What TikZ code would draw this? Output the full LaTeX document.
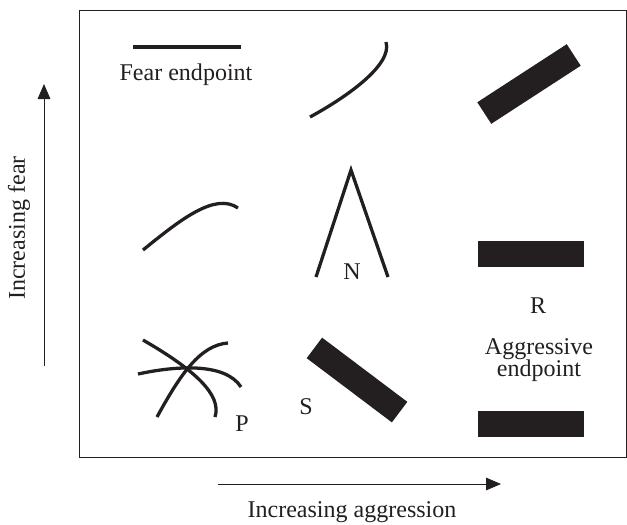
\documentclass[tikz,border=0pt]{standalone}
\usepackage{fontspec}
\setmainfont{Liberation Serif}
\usetikzlibrary{arrows.meta}
\definecolor{ink}{RGB}{35,31,32}

\begin{document}
\begin{tikzpicture}[x=0.03cm, y=-0.03cm, >={Triangle[length=0.45cm, width=0.38cm]},
    every node/.style={font=\fontsize{20.5}{19}\selectfont, text=ink},
    stroke/.style={ink, line width=2.8pt},
    bar/.style={fill=ink, inner sep=0pt, minimum width=3.2cm, minimum height=0.77cm}]
    \useasboundingbox (0,0) rectangle (627,524);

    % Rahmen
    \draw[ink, line width=0.7pt] (79,10) rectangle (626,457);

    % Achsen
    \coordinate (fearlo) at (44,366);
    \coordinate (fearhi) at (44,84);
    \draw[->, ink, line width=0.7pt] (fearlo) -- (fearhi);
    \node[rotate=90] (fearlbl) at (19,228) {Increasing fear};

    \coordinate (agglo) at (218,484);
    \coordinate (agghi) at (501,484);
    \draw[->, ink, line width=0.7pt] (agglo) -- (agghi);
    \node (agglbl) at (352,512) {Increasing aggression};

    % obere Reihe
    \draw[stroke] (133,47) -- (241,47);
    \node (fearend) at (186,75) {Fear endpoint};
    \draw[stroke] (310,117) .. controls (345,98) and (393,65) .. (386,42);
    \node[bar, rotate=33] (topbar) at (529,84) {};

    % mittlere Reihe
    \draw[stroke] (143,250) .. controls (180,220) and (215,192) .. (238,208);
    \draw[stroke, line join=miter] (316,277) -- (351,170) -- (388,277);
    \node (nlbl) at (352,272) {N};
    \node[bar] (midbar) at (531,254) {};
    \node (rlbl) at (538,306) {R};

    % untere Reihe
    \draw[stroke] (143,340) .. controls (195,370) and (222,395) .. (215,417);
    \draw[stroke] (157,417) .. controls (180,375) and (200,345) .. (228,343);
    \draw[stroke] (138,374) .. controls (175,366) and (225,362) .. (241,387);
    \node (plbl) at (242,424) {P};
    \node[bar, rotate=-37] (sbar) at (357,380) {};
    \node (slbl) at (306,407) {S};
    \node[align=center] (aggend) at (539,360) {Aggressive\\endpoint};
    \node[bar] (lowbar) at (531,424) {};
\end{tikzpicture}
\end{document}
